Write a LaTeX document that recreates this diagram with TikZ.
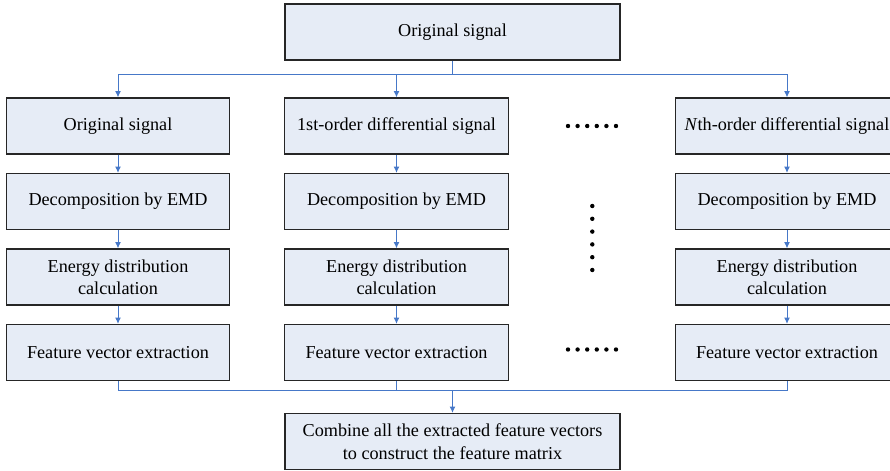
\documentclass[tikz,border=0pt]{standalone}
\usepackage{fontspec}
\setmainfont{Liberation Serif}
\usetikzlibrary{arrows.meta, positioning}
\definecolor{boxfill}{RGB}{230,236,246}
\definecolor{linkblue}{RGB}{70,120,200}
\tikzset{
    stage/.style = {draw=black!85, fill=boxfill, line width=0.6pt, inner sep=0pt,
        minimum width=111.75pt, minimum height=28pt, align=center,
        font=\fontsize{9.1}{11.2}\selectfont},
    widestage/.style = {stage, minimum width=167.5pt},
    link/.style = {draw=linkblue, line width=0.5pt},
    flow/.style = {link, -{Latex[length=3.2pt, width=3pt]}},
}

\begin{document}
\begin{tikzpicture}[x=0.5pt, y=-0.5pt, node distance=9.15pt]
    \useasboundingbox (0,0) rectangle (890,471);
    \node[widestage] (orig) at (452.5,32) {Original signal};
    \node[stage] (sig1) at (118,126) {Original signal};
    \node[stage] (sig2) at (396.5,126) {1st-order differential signal};
    \node[stage] (sig3) at (787,126) {\textit{N}th-order differential signal};
    \node[stage, below=of sig1] (emd1) {Decomposition by EMD};
    \node[stage, below=of sig2] (emd2) {Decomposition by EMD};
    \node[stage, below=of sig3] (emd3) {Decomposition by EMD};
    \node[stage, below=of emd1] (eng1) {Energy distribution\\calculation};
    \node[stage, below=of emd2] (eng2) {Energy distribution\\calculation};
    \node[stage, below=of emd3] (eng3) {Energy distribution\\calculation};
    \node[stage, below=of eng1] (vec1) {Feature vector extraction};
    \node[stage, below=of eng2] (vec2) {Feature vector extraction};
    \node[stage, below=of eng3] (vec3) {Feature vector extraction};
    \node[widestage] (comb) at (452.5,441.5) {Combine all the extracted feature vectors\\to construct the feature matrix};
    \coordinate (split) at (452.5,74);
    \coordinate (merge) at (452.5,390);
    % branch to the signals
    \draw[link] (orig) -- (split);
    \foreach \s in {sig1,sig2,sig3}
        \draw[flow] (split) -| (\s.north);
    % steps in every column
    \foreach \i in {1,2,3} {
        \draw[flow] (sig\i) -- (emd\i);
        \draw[flow] (emd\i) -- (eng\i);
        \draw[flow] (eng\i) -- (vec\i);
        \draw[link] (vec\i.south) |- (merge);
    }
    \draw[flow] (merge) -- (comb);
    % dots
    \foreach \k in {0,...,5} {
        \fill (568+9.6*\k,126) circle (1.1pt);
        \fill (568+9.6*\k,349.5) circle (1.1pt);
        \fill (592.3,206+12.8*\k) circle (1.1pt);
    }
\end{tikzpicture}
\end{document}
